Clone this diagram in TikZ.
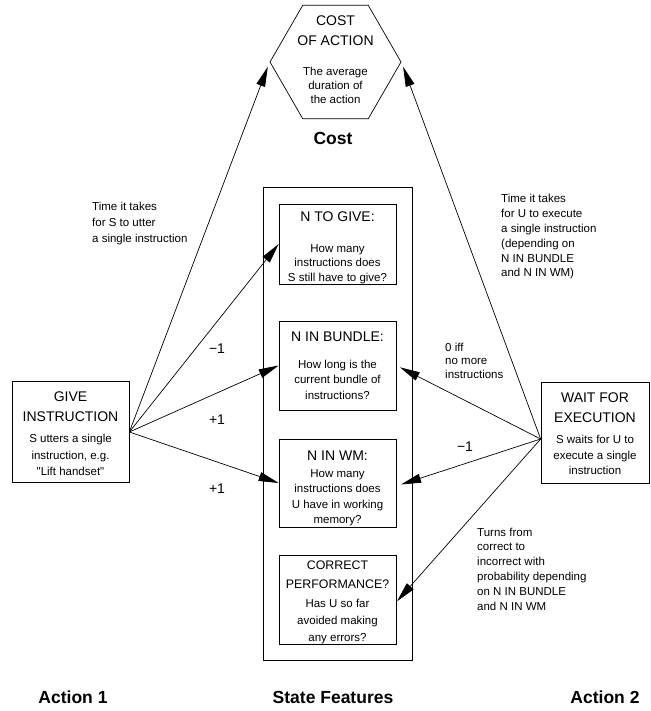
\documentclass[tikz,border=0pt]{standalone}
\usepackage{fontspec}
\setmainfont{Liberation Sans}[Ligatures=TeXOff]
\usetikzlibrary{positioning,calc,arrows.meta,shapes.geometric}

\newcommand{\hdfont}{\fontsize{14}{17}\selectfont}
\newcommand{\dsfont}{\fontsize{11.5}{15.5}\selectfont}
\newcommand{\capfont}{\fontsize{17.5}{20}\selectfont\bfseries}
\newcommand{\headroom}[1]{\rule{0pt}{#1}}

\begin{document}
\begin{tikzpicture}[
    x=1pt, y=-1pt,
    box/.style={rectangle, draw, line width=0.7pt, align=center, inner sep=2pt, font=\dsfont},
    actbox/.style={box, minimum width=#1, minimum height=101pt},
    featbox/.style={box, inner ysep=0pt, minimum width=117pt, minimum height=#1},
    note/.style={font=\dsfont, align=left, anchor=west, inner sep=0pt},
    num/.style={font=\hdfont, inner sep=0pt},
    captxt/.style={font=\capfont, inner sep=0pt},
    arr/.style={-{Triangle[length=20pt, width=9pt]}, line width=0.7pt}
]
\useasboundingbox (0,0) rectangle (650,711);

% Top: cost hexagon
\node[draw, line width=0.7pt, regular polygon, regular polygon sides=6,
      minimum size=131pt, inner sep=0pt] (hex) at (335.5,62) {};
\node[align=center, font=\dsfont] (cost) at (335.5,60)
    {\hdfont COST\\[4.5pt]\hdfont OF ACTION\\[14.5pt]The average\\[-1.5pt]duration of\\[-1.5pt]the action};
\node[captxt] (costcap) at (333,138) {Cost};

% Middle: state features
\node[box, minimum width=149pt, minimum height=473pt] (state) at (337.5,423.5) {};
\node[featbox=80pt] (togive) at (337.5,244)
    {\hdfont\headroom{17pt}N TO GIVE:\\[15.5pt]How many\\[-1pt]instructions does\\[-1pt]S still have to give?};
\node[featbox=89pt] (bundle) at (337.5,365.5)
    {\hdfont N IN BUNDLE:\\[11.5pt]How long is the\\current bundle of\\instructions?};
\node[featbox=88pt] (wm) at (337.5,483)
    {\hdfont\headroom{20pt}N IN WM:\\[1.5pt]How many\\instructions does\\U have in working\\memory?};
\node[featbox=89pt] (correct) at (337.5,599.5)
    {\fontsize{12.4}{15}\selectfont\headroom{14.5pt}CORRECT\\[3.5pt]\fontsize{12.4}{15}\selectfont PERFORMANCE?\\[3pt]Has U so far\\[2pt]avoided making\\[1pt]any errors?};

% Left: action 1
\node[actbox=117pt] (give) at (70.5,432)
    {\hdfont\headroom{14pt}GIVE\\[4.5pt]\hdfont INSTRUCTION\\[5.5pt]S utters a single\\[1pt]instruction, e.g.\\[1pt]"Lift handset"};

% Right: action 2
\node[actbox=108pt] (wait) at (595,432.5)
    {\hdfont\headroom{12pt}WAIT FOR\\[4.5pt]\hdfont EXECUTION\\[6pt]S waits for U to\\execute a single\\instruction};
\coordinate (waitout) at ($(wait.west)+(0,6.5)$);

% Connectors
\draw[arr, shorten >=5pt] (give.east) -- (hex.west);
\draw[arr] (give.east) -- (togive.west);
\draw[arr] (give.east) -- (bundle.west);
\draw[arr] (give.east) -- (wm.west);
\draw[arr, shorten >=5pt] (waitout) -- (hex.east);
\draw[arr, shorten >=4pt] (waitout) -- (bundle.east);
\draw[arr, shorten >=5pt] (waitout) -- ($(wm.east)+(0,3)$);
\draw[arr, shorten >=1pt] (waitout) -- ($(correct.east)+(0,2.5)$);

% Connector labels
\node[note] (utterlbl) at (92,224)
    {Time it takes\\[0.5pt]for S to utter\\[0.5pt]a single instruction};
\node[note] (execlbl) at (501,237)
    {Time it takes\\[-0.7pt]for U to execute\\[-0.7pt]a single instruction\\[-0.7pt](depending on\\[-0.7pt]N IN BUNDLE\\[-0.7pt]and N IN WM)};
\node[note] (zerolbl) at (445,360.5)
    {0 iff\\[-2pt]no more\\[-2pt]instructions};
\node[note] (turnlbl) at (477,569)
    {Turns from\\[-0.7pt]correct to\\[-0.7pt]incorrect with\\[-0.7pt]probability depending\\[-0.7pt]on N IN BUNDLE\\[-0.7pt]and N IN WM};
\node[num] (minusl) at (217,349) {−1};
\node[num] (plusa) at (217,420) {+1};
\node[num] (plusb) at (217,489) {+1};
\node[num] (minusr) at (465,447) {−1};

% Bottom captions
\node[captxt] (act1cap) at (73,697) {Action 1};
\node[captxt] (statecap) at (333,697) {State Features};
\node[captxt] (act2cap) at (605,697) {Action 2};

\end{tikzpicture}
\end{document}
